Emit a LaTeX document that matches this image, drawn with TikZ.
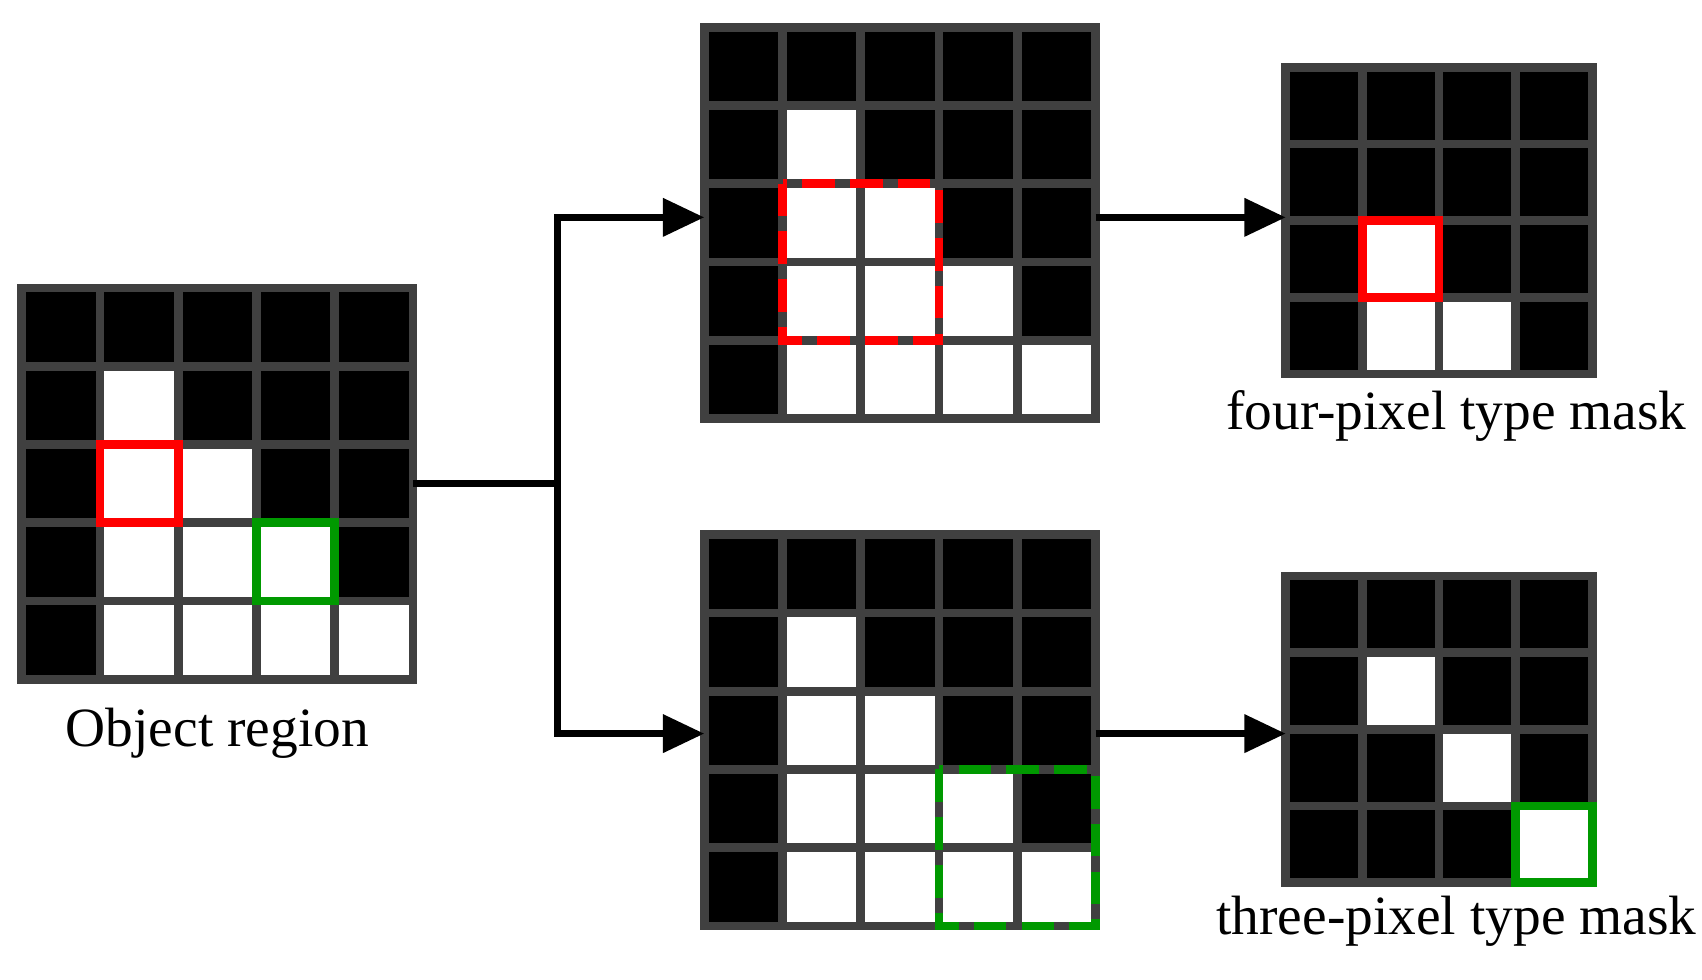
\documentclass[tikz,border=0pt]{standalone}
\usepackage{fontspec}
\setmainfont{Liberation Serif}
\usetikzlibrary{arrows.meta}

\tikzset{
  cell/.style={draw=black!75, line width=0.08cm},
  pick/.style={line width=0.08cm},
  link/.style={line width=0.065cm, -{Triangle[length=0.38cm, width=0.34cm]}},
  caption/.style={font=\fontsize{14.5}{16}\selectfont, inner sep=0pt}
}

% #1,#2 top-left corner, #3 cell size, #4 rows of colours
\newcommand{\pixgrid}[4]{%
  \foreach \row [count=\r from 0] in {#4} {
    \foreach \v [count=\c from 0] in \row {
      \draw[cell, fill=\v] (#1+\c*#3, #2-\r*#3) rectangle ++(#3,-#3);
    }
  }
}

\begin{document}
\begin{tikzpicture}
\useasboundingbox (0,0) rectangle (15.66,-9.016);

% object region
\pixgrid{0.2}{-2.65}{0.72}{{black,black,black,black,black},{black,white,black,black,black},{black,white,white,black,black},{black,white,white,white,black},{black,white,white,white,white}}
\draw[pick, red] (0.92,-4.09) rectangle ++(0.72,-0.72);
\draw[pick, green!60!black] (2.36,-4.81) rectangle ++(0.72,-0.72);
\node[caption] (objlbl) at (2.0,-6.75) {Object region};

% upper copy
\pixgrid{6.48}{-0.25}{0.72}{{black,black,black,black,black},{black,white,black,black,black},{black,white,white,black,black},{black,white,white,white,black},{black,white,white,white,white}}
\draw[pick, red, dash pattern=on 0.3cm off 0.14cm] (7.20,-1.69) rectangle ++(1.44,-1.44);

% lower copy
\pixgrid{6.48}{-4.92}{0.72}{{black,black,black,black,black},{black,white,black,black,black},{black,white,white,black,black},{black,white,white,white,black},{black,white,white,white,white}}
\draw[pick, green!60!black, dash pattern=on 0.3cm off 0.14cm] (8.64,-7.08) rectangle ++(1.44,-1.44);

% four-pixel mask
\pixgrid{11.83}{-0.62}{0.705}{{black,black,black,black},{black,black,black,black},{black,white,black,black},{black,white,white,black}}
\draw[pick, red] (12.535,-2.03) rectangle ++(0.705,-0.705);
\node[caption] (fourlbl) at (13.4,-3.83) {four-pixel type mask};

% three-pixel mask
\pixgrid{11.83}{-5.30}{0.705}{{black,black,black,black},{black,white,black,black},{black,black,white,black},{black,black,black,white}}
\draw[pick, green!60!black] (13.945,-7.415) rectangle ++(0.705,-0.705);
\node[caption] (threelbl) at (13.4,-8.48) {three-pixel type mask};

% connectors
\coordinate (objE) at (3.80,-4.45);
\coordinate (split) at (5.13,-4.45);
\coordinate (upW) at (6.48,-2.0);
\coordinate (loW) at (6.48,-6.75);
\coordinate (upE) at (10.08,-2.0);
\coordinate (loE) at (10.08,-6.75);
\coordinate (fourW) at (11.83,-2.0);
\coordinate (threeW) at (11.83,-6.75);
\draw[line width=0.065cm] (objE) -- (split);
\draw[link] (split) |- (upW);
\draw[link] (split) |- (loW);
\draw[link] (upE) -- (fourW);
\draw[link] (loE) -- (threeW);
\end{tikzpicture}
\end{document}
